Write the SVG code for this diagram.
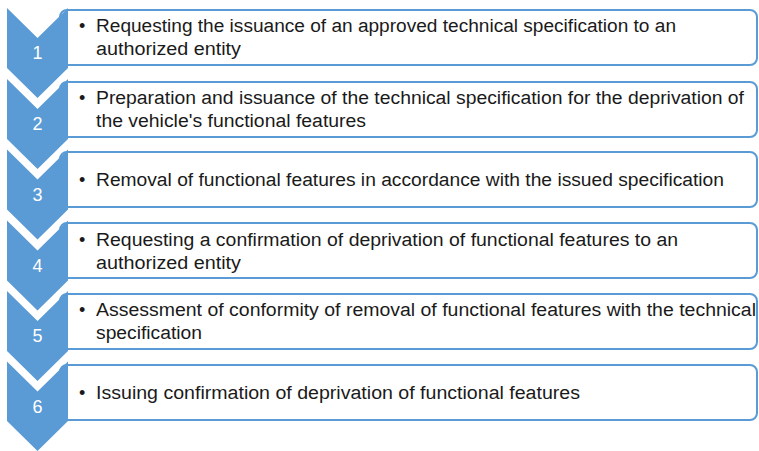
<svg xmlns="http://www.w3.org/2000/svg" width="759" height="451" viewBox="0 0 759 451">
<style>
.box{fill:#ffffff;stroke:#5b9bd5;stroke-width:2}
.chev{fill:#5b9bd5}
.num{font-family:"Liberation Sans",Arial,sans-serif;font-size:18px;fill:#ffffff;text-anchor:middle}
.t{font-family:"Liberation Sans",Arial,sans-serif;font-size:18px;fill:#1a1a1a}
</style>
<rect width="759" height="451" fill="#ffffff"/>
<g id="step1">
<rect class="box" x="60" y="10" width="697" height="55" rx="7"/>
<path class="chev" d="M7,8 L37.5,38 L68,8 L68,68 L37.5,98 L7,68 Z"/>
<text class="num" x="37.5" y="59">1</text>
<text class="t" x="79" y="32">•</text>
<text class="t" x="96" y="32" textLength="580" lengthAdjust="spacingAndGlyphs">Requesting the issuance of an approved technical specification to an</text>
<text class="t" x="96" y="55" textLength="145" lengthAdjust="spacingAndGlyphs">authorized entity</text>
</g>
<g id="step2">
<rect class="box" x="60" y="82" width="697" height="55" rx="7"/>
<path class="chev" d="M7,79 L37.5,109 L68,79 L68,139 L37.5,169 L7,139 Z"/>
<text class="num" x="37.5" y="130">2</text>
<text class="t" x="79" y="104">•</text>
<text class="t" x="96" y="104" textLength="648" lengthAdjust="spacingAndGlyphs">Preparation and issuance of the technical specification for the deprivation of</text>
<text class="t" x="96" y="127" textLength="270" lengthAdjust="spacingAndGlyphs">the vehicle's functional features</text>
</g>
<g id="step3">
<rect class="box" x="60" y="152" width="697" height="55" rx="7"/>
<path class="chev" d="M7,149.5 L37.5,179.5 L68,149.5 L68,209.5 L37.5,239.5 L7,209.5 Z"/>
<text class="num" x="37.5" y="200.5">3</text>
<text class="t" x="79" y="186">•</text>
<text class="t" x="96" y="186" textLength="628" lengthAdjust="spacingAndGlyphs">Removal of functional features in accordance with the issued specification</text>
</g>
<g id="step4">
<rect class="box" x="60" y="223" width="697" height="55" rx="7"/>
<path class="chev" d="M7,220.5 L37.5,250.5 L68,220.5 L68,280.5 L37.5,310.5 L7,280.5 Z"/>
<text class="num" x="37.5" y="271.5">4</text>
<text class="t" x="79" y="246">•</text>
<text class="t" x="96" y="246" textLength="582" lengthAdjust="spacingAndGlyphs">Requesting a confirmation of deprivation of functional features to an</text>
<text class="t" x="96" y="269" textLength="145" lengthAdjust="spacingAndGlyphs">authorized entity</text>
</g>
<g id="step5">
<rect class="box" x="60" y="294" width="697" height="55" rx="7"/>
<path class="chev" d="M7,291 L37.5,321 L68,291 L68,351 L37.5,381 L7,351 Z"/>
<text class="num" x="37.5" y="342">5</text>
<text class="t" x="79" y="316">•</text>
<text class="t" x="96" y="316" textLength="660" lengthAdjust="spacingAndGlyphs">Assessment of conformity of removal of functional features with the technical</text>
<text class="t" x="96" y="339" textLength="106" lengthAdjust="spacingAndGlyphs">specification</text>
</g>
<g id="step6">
<rect class="box" x="60" y="365" width="697" height="55" rx="7"/>
<path class="chev" d="M7,361.5 L37.5,391.5 L68,361.5 L68,421 L37.5,451 L7,421 Z"/>
<text class="num" x="37.5" y="413">6</text>
<text class="t" x="79" y="399">•</text>
<text class="t" x="96" y="399" textLength="484" lengthAdjust="spacingAndGlyphs">Issuing confirmation of deprivation of functional features</text>
</g>
<g id="connectors"/>
</svg>
